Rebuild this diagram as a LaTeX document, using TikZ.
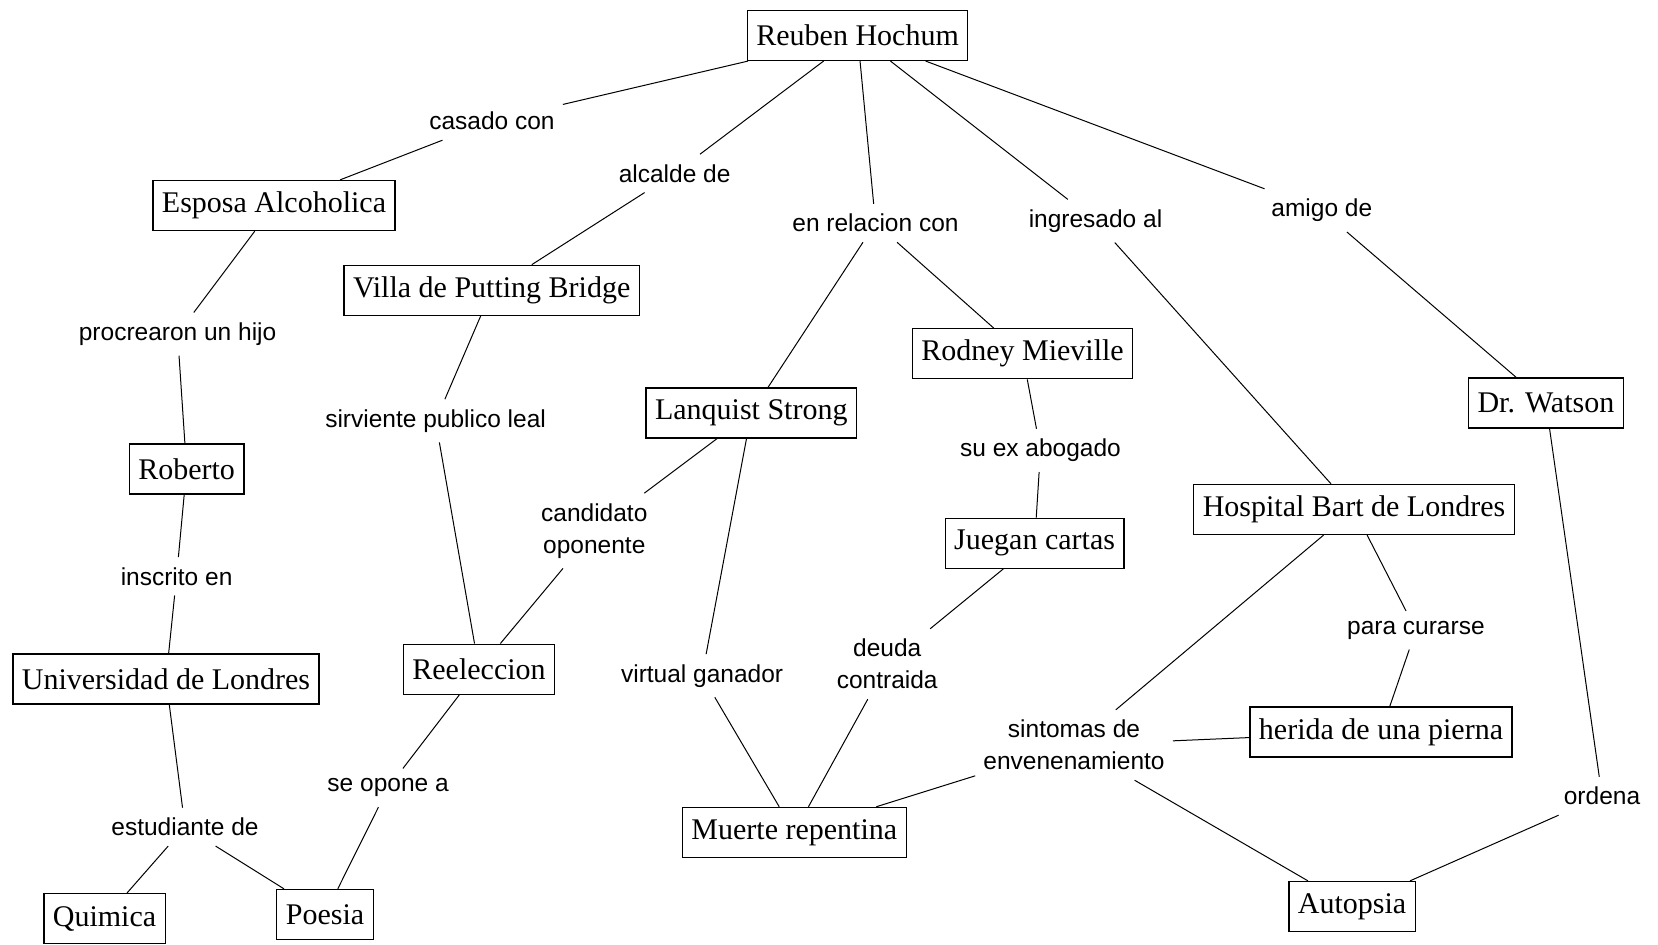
\documentclass[tikz,border=0pt]{standalone}
\usepackage{fontspec}
\setmainfont{Liberation Serif}
\newfontfamily\labfont{Liberation Sans}
\begin{document}
\begin{tikzpicture}[x=1pt,y=-1pt,
  concept/.style={draw=black, line width=1.3pt, fill=white, font=\fontsize{30}{34}\selectfont, inner xsep=9pt, minimum height=50pt},
  link/.style={font=\labfont\fontsize{24.5}{32}\selectfont, inner xsep=8pt, inner ysep=10pt, align=center},
  conn/.style={line width=1pt, draw=black}]
\useasboundingbox[fill=white] (0,0) rectangle (1658,945);
% concepts
\node[concept] (reuben) at (857.6,35.4) {Reuben Hochum};
\node[concept] (esposa) at (274,205.5) {Esposa Alcoholica};
\node[concept] (villa) at (491.7,290.3) {Villa de Putting Bridge};
\node[concept] (rodney) at (1022.5,353.7) {Rodney Mieville};
\node[concept] (lanquist) at (751.3,412.9) {Lanquist Strong};
\node[concept] (watson) at (1545.9,402.9) {Dr. Watson};
\node[concept] (roberto) at (186.6,469) {Roberto};
\node[concept] (hospital) at (1354,509.5) {Hospital Bart de Londres};
\node[concept] (juegan) at (1034.6,543.3) {Juegan cartas};
\node[concept] (univ) at (166,679) {Universidad de Londres};
\node[concept] (reel) at (479,669.2) {Reeleccion};
\node[concept] (herida) at (1381,732) {herida de una pierna};
\node[concept] (muerte) at (794.3,832.4) {Muerte repentina};
\node[concept] (quimica) at (104.5,918.7) {Quimica};
\node[concept] (poesia) at (325,914.5) {Poesia};
\node[concept] (autopsia) at (1352,906.5) {Autopsia};
% linking phrases
\node[link] (l1) at (492,121) {casado con};
\node[link] (l2) at (674.6,173.4) {alcalde de};
\node[link] (l3) at (875.5,223.1) {en relacion con};
\node[link] (l4) at (1095.5,221) {ingresado al};
\node[link] (l5) at (1321.8,210.4) {amigo de};
\node[link] (l6) at (177.6,334.1) {procrearon un hijo};
\node[link] (l7) at (435.6,420.8) {sirviente publico leal};
\node[link] (l8) at (1040.5,450.4) {su ex abogado};
\node[link] (l9) at (594.3,530.8) {candidato\\oponente};
\node[link] (l10) at (176.6,576.3) {inscrito en};
\node[link] (l11) at (702.1,675.7) {virtual ganador};
\node[link] (l12) at (887.2,664) {deuda\\contraida};
\node[link] (l13) at (1415.9,630.2) {para curarse};
\node[link] (l14) at (1074,745) {sintomas de\\envenenamiento};
\node[link] (l15) at (388.1,787.8) {se opone a};
\node[link] (l16) at (185,826.9) {estudiante de};
\node[link] (l17) at (1602,796) {ordena};
% connectors
\draw[conn] (reuben) -- (l1);
\draw[conn] (l1) -- (esposa);
\draw[conn] (reuben) -- (l2);
\draw[conn] (l2) -- (villa);
\draw[conn] (reuben) -- (l3);
\draw[conn] (l3) -- (lanquist);
\draw[conn] (l3) -- (rodney);
\draw[conn] (reuben) -- (l4);
\draw[conn] (l4) -- (hospital);
\draw[conn] (reuben) -- (l5);
\draw[conn] (l5) -- (watson);
\draw[conn] (esposa) -- (l6);
\draw[conn] (l6) -- (roberto);
\draw[conn] (villa) -- (l7);
\draw[conn] (l7) -- (reel);
\draw[conn] (rodney) -- (l8);
\draw[conn] (l8) -- (juegan);
\draw[conn] (lanquist) -- (l9);
\draw[conn] (l9) -- (reel);
\draw[conn] (roberto) -- (l10);
\draw[conn] (l10) -- (univ);
\draw[conn] (lanquist) -- (l11);
\draw[conn] (l11) -- (muerte);
\draw[conn] (juegan) -- (l12);
\draw[conn] (l12) -- (muerte);
\draw[conn] (hospital) -- (l13);
\draw[conn] (l13) -- (herida);
\draw[conn] (hospital) -- (l14);
\draw[conn] (herida) -- (l14);
\draw[conn] (l14) -- (muerte);
\draw[conn] (l14) -- (autopsia);
\draw[conn] (reel) -- (l15);
\draw[conn] (l15) -- (poesia);
\draw[conn] (univ) -- (l16);
\draw[conn] (l16) -- (quimica);
\draw[conn] (l16) -- (poesia);
\draw[conn] (watson) -- (l17);
\draw[conn] (l17) -- (autopsia);
\end{tikzpicture}
\end{document}
